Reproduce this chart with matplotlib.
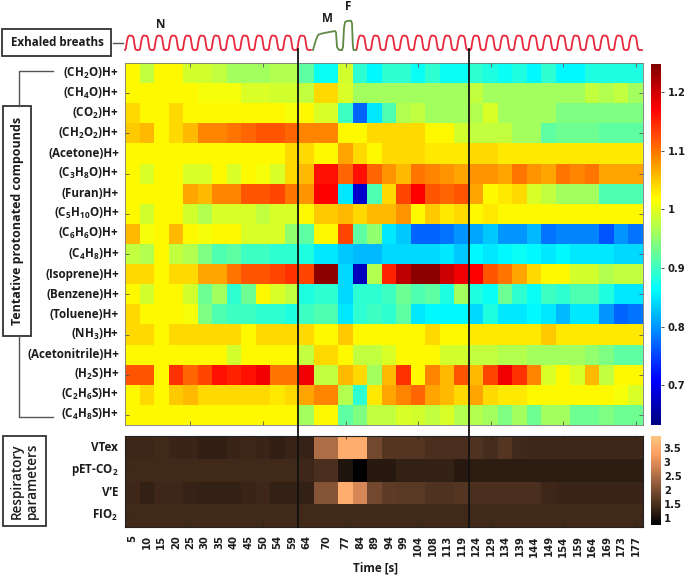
import numpy as np
import matplotlib
matplotlib.use('Agg')
from matplotlib import pyplot as plt
from matplotlib.colors import LinearSegmentedColormap
from matplotlib.patches import Rectangle

plt.rcParams['font.family'] = ['Open Sans', 'DejaVu Sans']
plt.rcParams['mathtext.default'] = 'regular'

times = [5, 10, 15, 20, 25, 30, 35, 40, 45, 50, 54, 59, 64, 70, 77, 84, 89, 94, 99, 104, 108, 113, 119, 124,
         129, 134, 139, 144, 149, 154, 159, 164, 169, 173, 177]

compounds = ['(CH$_2$O)H+', '(CH$_4$O)H+', '(CO$_2$)H+', '(CH$_2$O$_2$)H+', '(Acetone)H+', '(C$_3$H$_8$O)H+',
             '(Furan)H+', '(C$_5$H$_{10}$O)H+', '(C$_6$H$_6$O)H+', '(C$_4$H$_8$)H+', '(Isoprene)H+', '(Benzene)H+',
             '(Toluene)H+', '(NH$_3$)H+', '(Acetonitrile)H+', '(H$_2$S)H+', '(C$_2$H$_6$S)H+', '(C$_4$H$_8$S)H+']

ch2o = [1.02, .98, 1.02, 1.02, .99, .99, .98, .96, .96, .96, .97, .97, .92, .87, .99, .89, .86, .89,
        .89, .87, .89, .87, .87, .89, .88, .87, .88, .86, .89, .86, .86, .88, .88, .88, .88]
ch4o = [1.02, 1.02, 1.02, 1.02, 1.02, 1.01, 1.01, 1.01, .995, .995, .99, .99, .98, 1.04, .995, .96, .96, .96,
        .96, .96, .96, .96, .96, .98, .96, .96, .96, .96, .96, .96, .96, .98, .97, .98, .96]
co2 = [1.04, 1.02, 1.02, 1.04, 1.02, 1.02, 1.02, 1.02, 1.02, 1.02, 1.02, 1.01, 1.02, .995, .90, .77, .85, .91,
       .97, .98, .96, .96, .96, .97, .995, .96, .96, .96, .96, .94, .94, .94, .94, .94, .94]
ch2o2 = [1.05, 1.06, 1.02, 1.04, 1.06, 1.09, 1.09, 1.10, 1.11, 1.12, 1.12, 1.11, 1.09, 1.09, 1.02, 1.02, 1.04, 1.04,
         1.04, 1.04, 1.02, 1.02, .99, .98, .98, .98, .96, .96, .92, .93, .93, .93, .92, .92, .92]
acetone = [1.02, 1.02, 1.02, 1.02, 1.02, 1.02, 1.02, 1.02, 1.02, 1.02, 1.02, 1.04, 1.04, 1.02, 1.07, 1.04, 1.02, 1.04,
           1.04, 1.04, 1.03, 1.03, 1.03, 1.04, 1.04, 1.03, 1.03, 1.03, 1.03, 1.03, 1.03, 1.03, 1.03, 1.03, 1.03]
c3h8o = [1.02, .995, 1.02, 1.02, .995, .995, 1.02, .995, 1.02, 1.01, .995, 1.04, 1.06, 1.16, 1.11, 1.16, 1.11, 1.08,
         1.06, 1.10, 1.09, 1.08, 1.07, 1.08, 1.08, 1.07, 1.10, 1.08, 1.07, 1.10, 1.09, 1.10, 1.07, 1.07, 1.07]
furan = [1.02, 1.02, 1.02, 1.02, 1.07, 1.06, 1.09, 1.09, 1.12, 1.12, 1.13, 1.10, 1.08, 1.17, .85, .68, .91, 1.04,
         1.13, 1.17, 1.12, 1.11, 1.12, 1.07, 1.02, 1.03, 1.04, .995, .98, .96, .96, .96, .91, .91, .91]
c5h10o = [1.02, .99, 1.02, 1.02, .99, .97, .995, .995, .995, .98, .995, .995, 1.02, 1.05, 1.06, 1.04, 1.06, 1.06,
          1.08, 1.02, 1.05, 1.03, 1.04, 1.02, 1.03, 1.02, 1.02, 1.02, 1.02, 1.02, 1.02, 1.02, 1.02, 1.02, 1.02]
c6h6o = [1.06, 1.01, 1.02, 1.06, 1.02, 1.01, 1.02, 1.02, .995, .995, .995, .95, .92, 1.02, 1.13, .92, .95, .85,
         .83, .77, .77, .78, .80, .81, .83, .80, .80, .82, .78, .79, .79, .79, .76, .80, .78]
c4h8 = [.98, .97, 1.02, .98, .97, .94, .91, .92, .90, .90, .89, .89, .88, .85, .83, .82, .82, .84,
        .84, .84, .84, .85, .83, .86, .85, .86, .87, .86, .85, .86, .85, .85, .85, .84, .84]
isoprene = [1.04, 1.04, 1.02, 1.04, 1.04, 1.07, 1.07, 1.10, 1.12, 1.12, 1.13, 1.14, 1.13, 1.24, .84, .67, .97, 1.15,
            1.21, 1.24, 1.24, 1.20, 1.18, 1.17, 1.12, 1.10, 1.07, 1.04, 1.02, 1.02, .99, .99, .97, .98, .98]
benzene = [1.02, .99, 1.02, 1.02, .99, .93, .96, .89, .93, 1.02, .995, .98, .88, .89, .84, .89, .89, .90,
           .93, .91, .92, .88, .96, .88, .87, .93, .89, .87, .90, .89, .91, .91, .88, .85, .85]
toluene = [1.04, 1.02, 1.02, 1.02, 1.01, .94, .91, .90, .90, .89, .89, .88, .90, .91, .85, .89, .90, .89,
           .92, .85, .86, .86, .86, .84, .88, .85, .85, .86, .85, .82, .85, .85, .80, .77, .78]
nh3 = [1.04, 1.04, 1.02, 1.04, 1.04, 1.04, 1.04, 1.04, 1.02, 1.04, 1.04, 1.04, 1.04, 1.02, 1.05, 1.02, 1.02, 1.02,
       1.02, 1.02, 1.04, 1.02, 1.02, 1.03, 1.03, 1.03, 1.03, 1.03, 1.05, 1.03, 1.03, 1.03, 1.03, 1.03, 1.03]
acetonitrile = [1.02, 1.02, 1.02, 1.02, 1.02, 1.02, 1.02, .99, 1.02, 1.02, 1.02, 1.02, .98, 1.04, 1.02, .98, .98, .995,
                1.02, 1.02, 1.02, .99, .99, .98, .98, .97, .97, .96, .96, .96, .96, .95, .94, .92, .92]
h2s = [1.12, 1.12, 1.02, 1.14, 1.11, 1.13, 1.16, 1.15, 1.16, 1.18, 1.10, 1.10, 1.18, .98, 1.06, 1.04, .96, 1.06,
       1.14, 1.02, 1.09, 1.06, 1.12, 1.06, 1.13, 1.18, 1.14, 1.09, .995, 1.02, .995, 1.06, .98, 1.02, 1.02]
c2h6s = [1.02, 1.04, 1.02, 1.05, 1.06, 1.04, 1.04, 1.04, 1.04, 1.04, 1.03, 1.04, 1.07, 1.09, .97, .89, 1.03, 1.07,
         1.09, 1.11, 1.07, 1.06, 1.04, 1.07, 1.04, 1.03, 1.03, 1.02, 1.02, 1.02, 1.02, 1.02, 1.02, 1.01, .995]
c4h8s = [1.02, 1.02, 1.02, 1.02, 1.02, 1.02, 1.02, 1.02, 1.02, 1.02, 1.02, 1.02, .96, 1.02, .92, .94, .98, .98,
         .995, .99, .98, .995, .97, .97, .96, .94, .96, .93, .96, .96, .93, .93, .94, .93, .93]

resp_labels = ['VTex', 'pET-CO$_2$', 'V’E', 'FIO$_2$']
vtex = [1.36, 1.36, 1.42, 1.33, 1.33, 1.25, 1.25, 1.33, 1.36, 1.33, 1.25, 1.33, 1.3, 2.5, 3.5, 3.5, 1.9, 1.6,
        1.6, 1.6, 1.5, 1.5, 1.5, 1.55, 1.45, 1.6, 1.4, 1.38, 1.38, 1.38, 1.38, 1.38, 1.38, 1.38, 1.38]
petco2 = [1.42, 1.42, 1.42, 1.42, 1.42, 1.42, 1.42, 1.42, 1.42, 1.42, 1.42, 1.42, 1.38, 1.5, 1.07, .75, 1.15, 1.15,
          1.28, 1.28, 1.28, 1.28, 1.15, 1.2, 1.2, 1.2, 1.2, 1.2, 1.2, 1.2, 1.2, 1.2, 1.2, 1.2, 1.2]
ve = [1.38, 1.28, 1.38, 1.38, 1.3, 1.28, 1.28, 1.28, 1.33, 1.38, 1.28, 1.28, 1.28, 2.1, 3.5, 2.9, 1.9, 1.7,
      1.65, 1.65, 1.55, 1.55, 1.6, 1.5, 1.5, 1.5, 1.5, 1.5, 1.38, 1.33, 1.33, 1.33, 1.33, 1.33, 1.33]
fio2 = [1.42] * 35

cb_ticks_top = [0.7, 0.8, 0.9, 1, 1.1, 1.2]
cb_ticks_bottom = [1, 1.5, 2, 2.5, 3, 3.5]

# one breath, as phase of the period and height of the trace
breath_phase = [0, .06, .14, .22, .3, .42, .52, .6, .66, .72, .8, .9, 1]
breath_level = [0, .1, .62, .92, 1, .98, .97, .82, .4, .08, 0, 0, 0]
mask_x = [313, 314, 316, 318, 320, 324, 335, 336, 337, 339, 342]
mask_y = [0, .25, .7, 1.03, 1.1, 1.17, 1.31, 1.22, .2, 0, 0]
fast_x = [342, 343, 344, 345, 347, 351, 352, 352.8, 353.5, 356]
fast_y = [0, .2, 1.5, 1.92, 2.0, 2.02, 1.85, .35, 0, 0]


W, H = 685, 578
def box(x0, y0, x1, y1):
    return [x0 / W, 1 - y1 / H, (x1 - x0) / W, (y1 - y0) / H]

fig = plt.figure(figsize=(6.85, 5.78), dpi=100)

# matlab style jet, yellow sits at 5/8 of the range
jet = LinearSegmentedColormap.from_list('mjet', [(0, (0, 0, .5)), (.125, (0, 0, 1)), (.375, (0, 1, 1)),
                                                 (.625, (1, 1, 0)), (.875, (1, 0, 0)), (1, (.5, 0, 0))], N=256)

# the 70 s column is wider than the others in the original
widths = np.ones(len(times))
widths[times.index(70)] = 1.7
edges = np.concatenate([[0], np.cumsum(widths)])
centers = (edges[:-1] + edges[1:]) / 2
tick_idx = np.arange(4, len(times), 5)

matrix = np.array([ch2o, ch4o, co2, ch2o2, acetone, c3h8o, furan, c5h10o, c6h6o, c4h8, isoprene, benzene,
                   toluene, nh3, acetonitrile, h2s, c2h6s, c4h8s])
resp = np.array([vtex, petco2, ve, fio2])

label_font = dict(fontweight='bold', fontsize=8.4, color='#1c1c1c')
tick_font = dict(family='DejaVu Sans', fontweight='bold', fontsize=7.2, color='#1c1c1c')

ax = fig.add_axes(box(125, 63, 643, 425))
m = ax.pcolormesh(edges, np.arange(19), matrix, cmap=jet, vmin=0.632, vmax=1.248)
ax.invert_yaxis()
ax.set_xticks(centers[tick_idx], [])
ax.set_yticks(np.arange(1, 18, 2) + .5, [])
ax.tick_params(direction='in', length=3, width=.6, color='#555555', top=True, right=True)
for i, name in enumerate(compounds):
    ax.text(-6 / 14.51, i + .5, name, ha='right', va='center', **label_font)
for s in ax.spines.values():
    s.set_linewidth(.6)
    s.set_color('#777777')

ax2 = fig.add_axes(box(125, 436, 643, 527))
m2 = ax2.pcolormesh(edges, np.arange(5), resp, cmap='copper', vmin=0.75, vmax=3.93)
ax2.invert_yaxis()
ax2.xaxis.remove_overlapping_locs = False
ax2.set_xticks(centers, [str(t) for t in times], rotation=90, ha='center', va='top', **tick_font)
ax2.tick_params(axis='x', which='major', length=0, pad=6)
ax2.set_xticks(centers[tick_idx], minor=True)
ax2.tick_params(axis='x', which='minor', direction='in', length=2, width=.5, color='#2a1a10', top=True)
ax2.set_yticks([1.5, 3.5], [])
ax2.tick_params(axis='y', direction='in', length=2, width=.5, color='#2a1a10', right=True)
for i, name in enumerate(resp_labels):
    ax2.text(-7 / 14.51, i + .5, name, ha='right', va='center', **label_font)
for s in ax2.spines.values():
    s.set_linewidth(.8)
    s.set_color('#222222')

cax = fig.add_axes(box(650.5, 64, 661, 425))
cb = fig.colorbar(m, cax=cax, ticks=cb_ticks_top)
cb.ax.set_yticklabels(['0.7', '0.8', '0.9', '1', '1.1', '1.2'], **tick_font)
cb.ax.tick_params(length=2, width=.6, direction='out', pad=3, color='#333333')
cb.outline.set_linewidth(0)

cax2 = fig.add_axes(box(650.5, 436, 661, 525))
cb2 = fig.colorbar(m2, cax=cax2, ticks=cb_ticks_bottom)
cb2.ax.set_yticklabels(['1', '1.5', '2', '2.5', '3', '3.5'], **tick_font)
cb2.ax.tick_params(length=0, pad=2)
cb2.outline.set_linewidth(0)

# overlay in pixel units for the breath trace, boxes and connectors
over = fig.add_axes([0, 0, 1, 1], facecolor='none', zorder=5)
over.set_xlim(0, W)
over.set_ylim(H, 0)
over.axis('off')

def breaths(x0, n, period=14.3):
    xs, ys = [], []
    for k in range(n):
        xs += [x0 + (k + p) * period for p in breath_phase]
        ys += breath_level
    return np.array(xs), np.array(ys)

def trace_y(v):
    return 50 - 14.5 * np.asarray(v)

xr, yr = breaths(125, 13)
over.plot(xr, trace_y(yr), color='#e8283c', lw=1.3)
xr, yr = breaths(356, 20)
over.plot(xr, trace_y(yr), color='#e8283c', lw=1.3)
over.plot(mask_x, trace_y(mask_y), color='#5f8a45', lw=1.3)
over.plot(fast_x, trace_y(fast_y), color='#5f8a45', lw=1.3)

over.text(161, 24, 'N', ha='center', va='center', **label_font)
over.text(327, 18, 'M', ha='center', va='center', **label_font)
over.text(348.5, 6, 'F', ha='center', va='center', **label_font)

for x in (298.5, 469):
    over.plot([x, x], [49, 527], color='#111111', lw=1.3)

def label_box(x0, y0, x1, y1):
    over.add_patch(Rectangle((x0, y0), x1 - x0, y1 - y0, fill=False, ec='#333333', lw=1.3))

label_box(2.5, 29, 111, 55.5)
over.text(57, 43, 'Exhaled breaths', ha='center', va='center', **label_font)
over.plot([113, 123], [43, 43], color='#555555', lw=1)

label_box(3, 106, 31, 336)
over.text(17.5, 221, 'Tentative protonated compounds', rotation=90, ha='center', va='center',
          fontweight='bold', fontsize=9, color='#1c1c1c')
over.plot([19, 19, 53], [106, 71, 71], color='#555555', lw=1)
over.plot([19, 19, 53], [336, 417, 417], color='#555555', lw=1)

label_box(3, 436, 46, 526)
over.text(24.5, 481, 'Respiratory\nparameters', rotation=90, ha='center', va='center', linespacing=1.15,
          fontsize=9.8, color='#1c1c1c', fontweight='semibold')

over.text(376, 568, 'Time [s]', ha='center', va='center', **label_font)

fig.savefig('out.png', dpi=100)
